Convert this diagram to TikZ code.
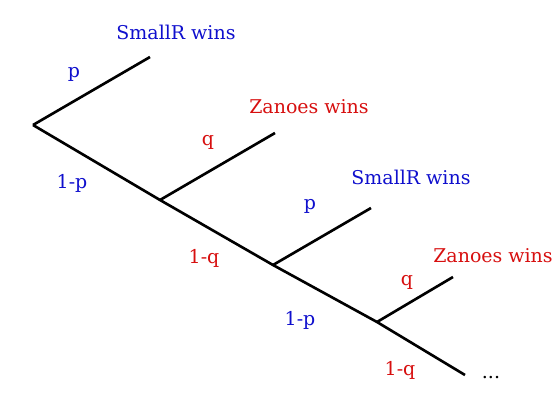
\documentclass[tikz,border=0pt]{standalone}
\usepackage{fontspec}
\setmainfont{DejaVu Serif}
\usepackage{xcolor}
\usetikzlibrary{positioning}
\definecolor{rblue}{RGB}{15,15,205}
\definecolor{zred}{RGB}{215,15,15}

\begin{document}
\begin{tikzpicture}[
    x=0.02cm, y=-0.02cm,
    edge/.style={line width=1.5pt, color=black},
    lbl/.style={font=\fontsize{10.8}{12}\selectfont, text=#1, inner sep=0pt},
    lbl/.default=black,
  ]
  \useasboundingbox (0,0) rectangle (559,403);

  % branching points
  \coordinate (root) at (33,125);
  \coordinate (n1)   at (160,200);
  \coordinate (n2)   at (273,265);
  \coordinate (n3)   at (377,322);
  \coordinate (tail) at (465,375);

  % leaves
  \coordinate (win1) at (150,57);
  \coordinate (win2) at (275,133);
  \coordinate (win3) at (371,208);
  \coordinate (win4) at (453,277);

  % tree
  \draw[edge] (root) -- (n1) -- (n2) -- (n3) -- (tail);
  \draw[edge] (root) -- (win1);
  \draw[edge] (n1) -- (win2);
  \draw[edge] (n2) -- (win3);
  \draw[edge] (n3) -- (win4);

  % outcomes
  \node[lbl=rblue] (o1) at (176,32)  {SmallR wins};
  \node[lbl=zred]  (o2) at (309,107) {Zanoes wins};
  \node[lbl=rblue] (o3) at (411,177) {SmallR wins};
  \node[lbl=zred]  (o4) at (493,256) {Zanoes wins};
  \node[lbl]       (dots) at (491,378) {...};

  % probabilities
  \node[lbl=rblue] (p1)  at (74,74)   {p};
  \node[lbl=rblue] (np1) at (72,183)  {1-p};
  \node[lbl=zred]  (q1)  at (208,142) {q};
  \node[lbl=zred]  (nq1) at (204,258) {1-q};
  \node[lbl=rblue] (p2)  at (310,206) {p};
  \node[lbl=rblue] (np2) at (300,320) {1-p};
  \node[lbl=zred]  (q2)  at (407,282) {q};
  \node[lbl=zred]  (nq2) at (400,370) {1-q};
\end{tikzpicture}
\end{document}
